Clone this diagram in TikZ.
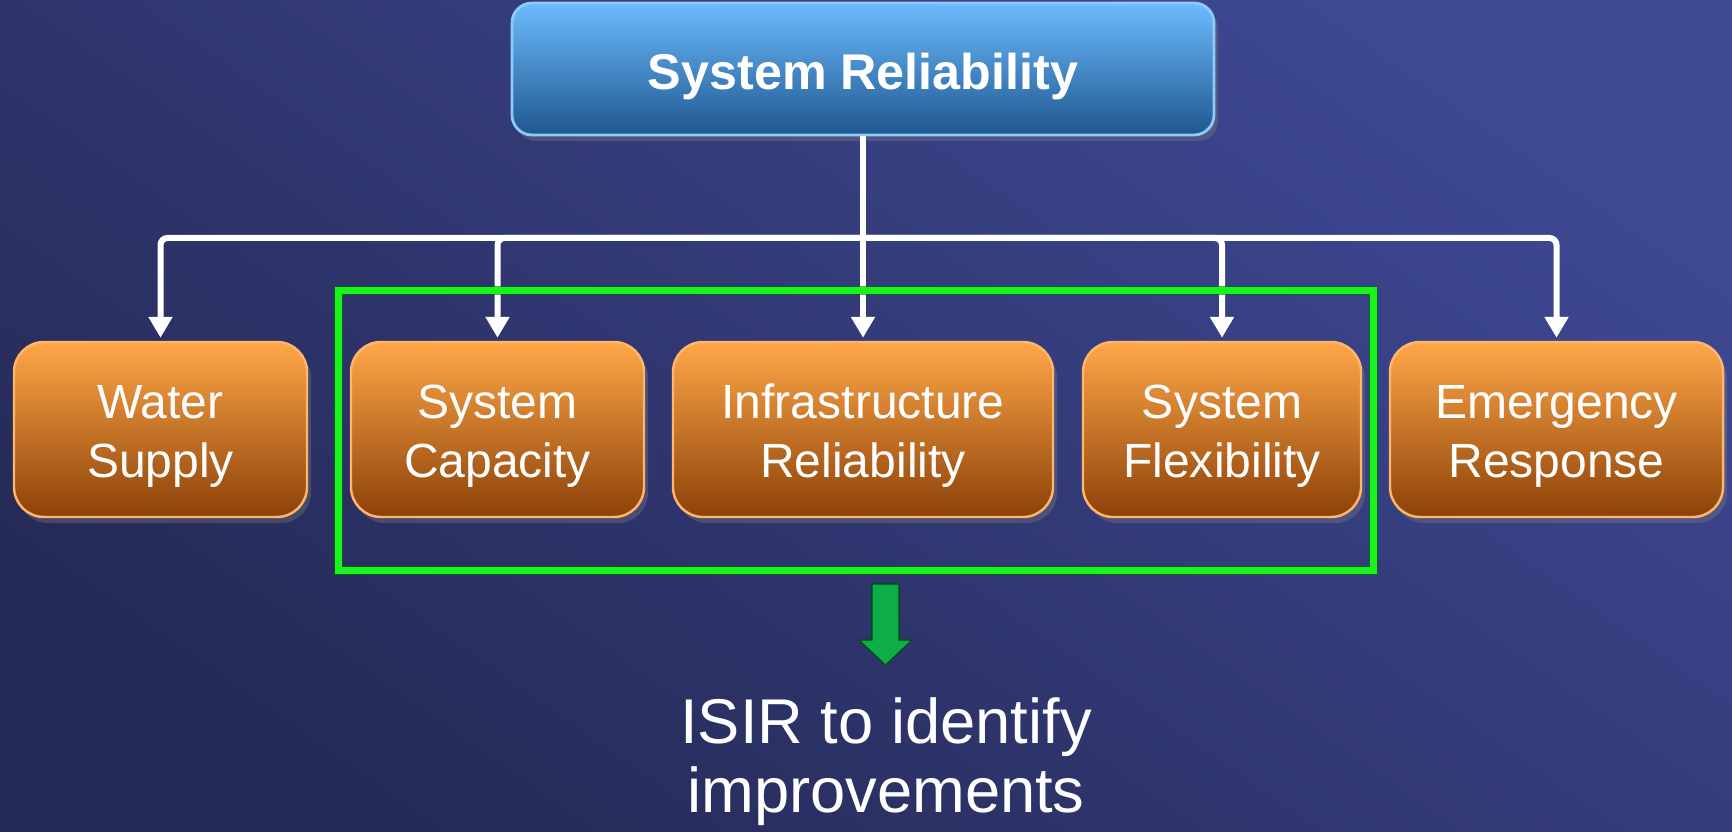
\documentclass[tikz,border=0pt]{standalone}
\usepackage{fontspec}
\setmainfont{Liberation Sans}
\usetikzlibrary{arrows.meta,shadows}
\definecolor{bgdark}{HTML}{252A56}
\definecolor{bglight}{HTML}{3E4893}
\definecolor{toptop}{HTML}{6CBBFD}
\definecolor{topbot}{HTML}{1F5790}
\definecolor{topedge}{HTML}{8FC9F7}
\definecolor{ortop}{HTML}{FFA748}
\definecolor{ormid}{HTML}{E67722}
\definecolor{orbot}{HTML}{8C4108}
\definecolor{oredge}{HTML}{FFB56C}
\definecolor{frame}{HTML}{19F51C}
\definecolor{gofill}{HTML}{0DAD4A}
\begin{document}
\begin{tikzpicture}[>={Triangle[width=0.23cm,length=0.21cm]},
  wire/.style={white,line width=0.06cm},
  topbox/.style={draw=topedge,line width=0.8pt,rounded corners=0.2cm,top color=toptop,bottom color=topbot,
    minimum width=7.02cm,minimum height=1.32cm,text=white,font=\bfseries\fontsize{14.3}{17}\selectfont,
    execute at begin node={\rule{0pt}{0.51cm}},
    drop shadow={opacity=0.35,shadow xshift=0.04cm,shadow yshift=-0.06cm}},
  subbox/.style={draw=oredge,line width=0.7pt,rounded corners=0.3cm,top color=ortop,middle color=ormid,bottom color=orbot,
    minimum height=1.75cm,align=center,text=white,font=\fontsize{13.66}{16.8}\selectfont,
    execute at begin node={\rule{0pt}{1.06cm}},
    drop shadow={opacity=0.35,shadow xshift=0.04cm,shadow yshift=-0.06cm}}]
  % background
  \shade[shading=axis,top color=bglight,bottom color=bgdark,shading angle=-35] (0,0) rectangle (17.32,-8.32);
  \useasboundingbox (0,0) rectangle (17.32,-8.32);

  \node[topbox] (top) at (8.63,-0.69) {System Reliability};
  \node[subbox,minimum width=2.93cm] (ws) at (1.605,-4.295) {Water\\Supply};
  \node[subbox,minimum width=2.93cm] (sc) at (4.975,-4.295) {System\\Capacity};
  \node[subbox,minimum width=3.80cm] (ir) at (8.63,-4.295) {Infrastructure\\Reliability};
  \node[subbox,minimum width=2.78cm] (sf) at (12.22,-4.295) {System\\Flexibility};
  \node[subbox,minimum width=3.33cm] (er) at (15.565,-4.295) {Emergency\\Response};

  \coordinate (bus) at (8.63,-2.38);
  \foreach \n in {ws,sc,sf,er}
    \draw[wire,->,rounded corners=2pt,shorten >=0.03cm] (bus) -| (\n.north);
  \draw[wire,->,shorten >=0.03cm] (top.south) -- (ir.north);

  % frame round the three middle boxes
  \draw[green!45!black,line width=0.095cm,opacity=0.6] (3.385,-2.905) rectangle (13.735,-5.705);
  \draw[frame,line width=0.065cm] (3.385,-2.905) rectangle (13.735,-5.705);

  \node[font=\fontsize{18}{19.6}\selectfont,text=white,align=center] (isir) at (8.86,-7.62) {ISIR to identify\\improvements};
  \coordinate (tip) at (8.855,-6.65);
  \fill[gofill,draw=green!30!black,line width=0.3pt] (8.72,-5.84) -- (8.99,-5.84) -- (8.99,-6.40) -- (9.12,-6.40)
    -- (tip) -- (8.59,-6.40) -- (8.72,-6.40) -- cycle;
\end{tikzpicture}
\end{document}
